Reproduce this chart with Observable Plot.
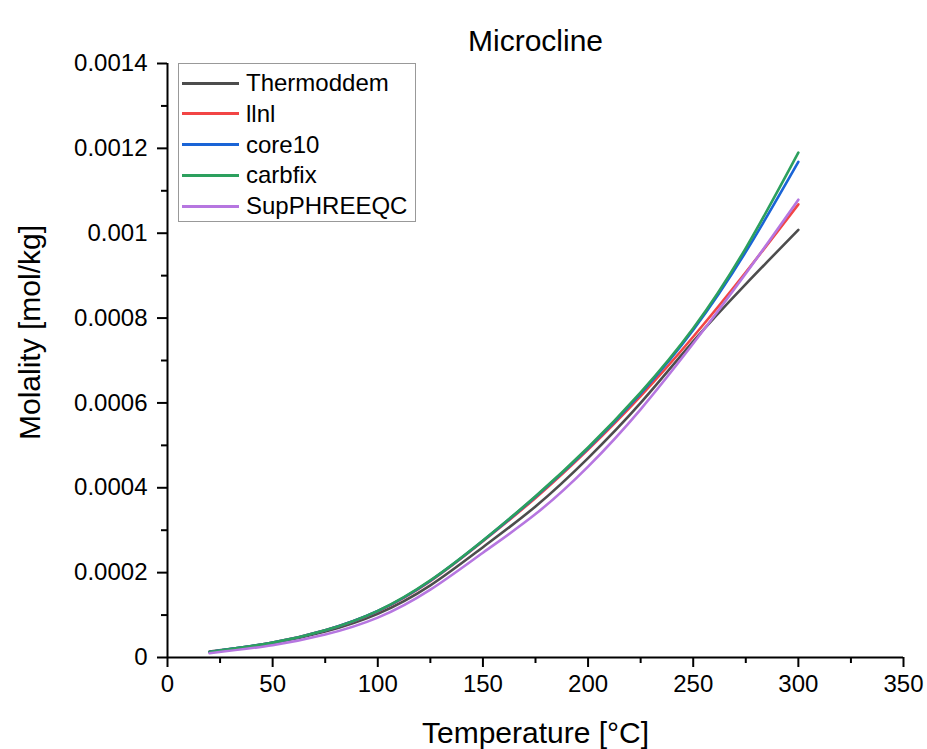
<!DOCTYPE html>
<html>
<head>
<meta charset="utf-8">
<script src="https://cdn.jsdelivr.net/npm/d3@7"></script>
<script src="https://cdn.jsdelivr.net/npm/@observablehq/plot@0.6"></script>
<style>
  html, body { margin: 0; padding: 0; background: #fff; }
  #wrap { position: relative; width: 927px; height: 749px; font-family: "Liberation Sans", Arial, sans-serif; }
  #legend { position: absolute; left: 178px; top: 63px; width: 238px; height: 159px; box-sizing: border-box;
            border: 1px solid #999; background: #fff; }
  .row { position: absolute; left: 0; height: 30px; display: flex; align-items: center; }
  .sw { width: 57px; height: 3px; margin-left: 3px; margin-right: 7px; }
  .lab { font-size: 24px; color: #000; line-height: 1; }
</style>
</head>
<body>
<div id="wrap"><div id="legend"></div></div>
<script>
const title = "Microcline";
const xLabel = "Temperature [°C]";
const yLabel = "Molality [mol/kg]";
const seriesNames = ["Thermoddem", "llnl", "core10", "carbfix", "SupPHREEQC"];
const seriesColors = ["#4d4d4d", "#f24545", "#1a64d6", "#2ca05e", "#b676e0"];
const temps = [20, 50, 75, 100, 125, 150, 175, 200, 225, 250, 275, 300];
const thermoddem = [1.4e-5, 3.4e-5, 6.1e-5, 1.03e-4, 1.70e-4, 2.60e-4, 3.56e-4, 4.70e-4, 6.00e-4, 7.45e-4, 8.80e-4, 1.008e-3];
const llnl       = [1.2e-5, 3.5e-5, 6.4e-5, 1.09e-4, 1.80e-4, 2.74e-4, 3.76e-4, 4.90e-4, 6.16e-4, 7.56e-4, 9.08e-4, 1.068e-3];
const core10     = [1.3e-5, 3.5e-5, 6.4e-5, 1.095e-4, 1.81e-4, 2.75e-4, 3.79e-4, 4.93e-4, 6.22e-4, 7.72e-4, 9.56e-4, 1.168e-3];
const carbfix    = [1.3e-5, 3.5e-5, 6.4e-5, 1.10e-4, 1.82e-4, 2.76e-4, 3.80e-4, 4.95e-4, 6.25e-4, 7.76e-4, 9.65e-4, 1.190e-3];
const supphreeqc = [1.0e-5, 2.9e-5, 5.4e-5, 9.4e-5, 1.60e-4, 2.47e-4, 3.38e-4, 4.50e-4, 5.85e-4, 7.40e-4, 9.05e-4, 1.079e-3];
const xTicks = [0, 50, 100, 150, 200, 250, 300, 350];
const xMinor = [25, 75, 125, 175, 225, 275, 325];
const yTicks = [0, 0.0002, 0.0004, 0.0006, 0.0008, 0.001, 0.0012, 0.0014];
const yTickLabels = ["0", "0.0002", "0.0004", "0.0006", "0.0008", "0.001", "0.0012", "0.0014"];
const yMinor = [0.0001, 0.0003, 0.0005, 0.0007, 0.0009, 0.0011, 0.0013];

const allSeries = [thermoddem, llnl, core10, carbfix, supphreeqc];
const data = [];
allSeries.forEach((arr, i) => arr.forEach((v, j) => data.push({series: seriesNames[i], T: temps[j], m: v})));

const chart = Plot.plot({
  width: 927, height: 749,
  marginLeft: 167, marginRight: 24, marginTop: 63, marginBottom: 92,
  style: {fontFamily: "'Liberation Sans', Arial, sans-serif", fontSize: "24px", color: "#000", background: "#fff"},
  x: {domain: [0, 350]},
  y: {domain: [0, 0.0014]},
  color: {domain: seriesNames, range: seriesColors},
  marks: [
    Plot.line(data, {x: "T", y: "m", z: "series", stroke: "series", strokeWidth: 2.6, curve: "natural"}),
    Plot.axisX({ticks: xTicks, tickSize: 10, tickPadding: 7, strokeWidth: 2, tickFormat: d => String(d), label: null}),
    Plot.axisX({ticks: xMinor, tickSize: 6, strokeWidth: 2, tickFormat: () => "", label: null}),
    Plot.axisY({ticks: yTicks, tickSize: 10, tickPadding: 10, strokeWidth: 2, tickFormat: d => yTickLabels[yTicks.indexOf(d)], label: null}),
    Plot.axisY({ticks: yMinor, tickSize: 6, strokeWidth: 2, tickFormat: () => "", label: null}),
    Plot.ruleY([0], {stroke: "#000", strokeWidth: 2}),
    Plot.ruleX([0], {stroke: "#000", strokeWidth: 2}),
    Plot.text([xLabel], {frameAnchor: "bottom", dy: 85, fontSize: 30, text: d => d}),
    Plot.text([yLabel], {frameAnchor: "left", textAnchor: "middle", dx: -137, dy: -28, rotate: -90, fontSize: 30, text: d => d}),
    Plot.text([title], {frameAnchor: "top", dy: -34, fontSize: 30, text: d => d})
  ]
});
const wrap = document.getElementById("wrap");
wrap.insertBefore(chart, wrap.firstChild);

const legend = document.getElementById("legend");
seriesNames.forEach((name, i) => {
  const row = document.createElement("div");
  row.className = "row";
  row.style.top = (4 + i * 30.8) + "px";
  const sw = document.createElement("div");
  sw.className = "sw";
  sw.style.background = seriesColors[i];
  const lab = document.createElement("span");
  lab.className = "lab";
  lab.textContent = name;
  row.appendChild(sw); row.appendChild(lab);
  legend.appendChild(row);
});
</script>
</body>
</html>
